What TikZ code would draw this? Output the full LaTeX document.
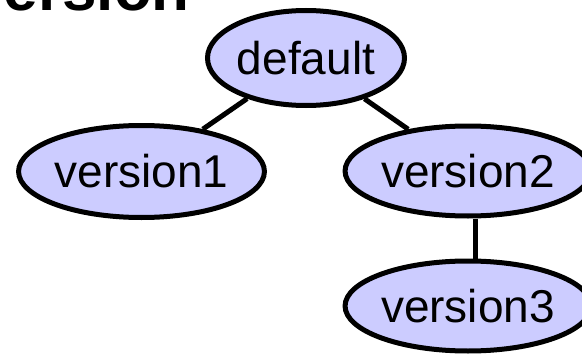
\documentclass[tikz,border=0pt]{standalone}
\usepackage{fontspec}
\setmainfont{Liberation Sans}
\usetikzlibrary{shapes.geometric}

\definecolor{verfill}{RGB}{204,204,255}
\tikzset{
  ver/.style={ellipse, draw, line width=5pt, fill=verfill, inner sep=0pt,
              font=\fontsize{46}{50}\selectfont},
  link/.style={line width=5pt},
}

\begin{document}
\begin{tikzpicture}[x=1pt,y=-1pt]
          \useasboundingbox (0,0) rectangle (582,356);
          \node[anchor=base east, inner sep=0pt,
                font=\fontsize{62}{70}\selectfont\bfseries] (title) at (190,10) {Version};

          \node[ver, minimum width=197pt, minimum height=95pt] (d)  at (306,58)    {default};
          \node[ver, minimum width=232pt, minimum height=92pt] (v1) at (141.5,171.5) {version1};
          \node[ver, minimum width=227pt, minimum height=90pt] (v2) at (468,171)   {version2};
          \node[ver, minimum width=227pt, minimum height=90pt] (v3) at (468,306)   {version3};

          \draw[link] (d) edge (v1)
                      (d) edge (v2);
          \draw[link] ([xshift=7pt]v2.south) -- ([xshift=7pt]v3.north);
        \end{tikzpicture}
\end{document}
